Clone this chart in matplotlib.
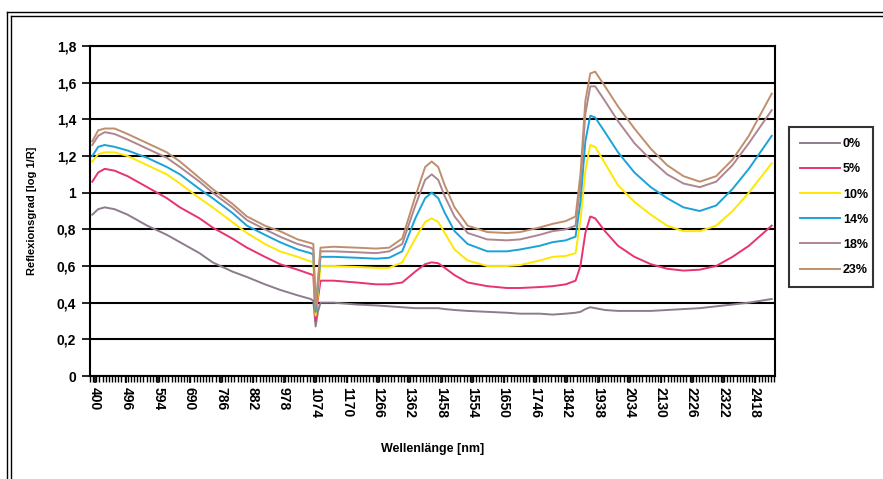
import matplotlib
matplotlib.use("Agg")
import matplotlib.pyplot as plt
from matplotlib.lines import Line2D
import numpy as np

plt.rcParams['font.family'] = ['Liberation Sans', 'DejaVu Sans']

wavelength = [392, 410, 430, 460, 500, 560, 620, 660, 720, 760, 820, 865, 920, 966,
              1020, 1060, 1068, 1075, 1082, 1090, 1130, 1200, 1260, 1300, 1340, 1380,
              1410, 1430, 1450, 1470, 1500, 1540, 1600, 1660, 1700, 1760, 1800, 1840,
              1870, 1885, 1900, 1915, 1930, 1960, 2000, 2050, 2100, 2150, 2200, 2250,
              2300, 2350, 2400, 2470]

s0 = [0.88, 0.91, 0.92, 0.91, 0.88, 0.82, 0.77, 0.73, 0.67, 0.62, 0.57, 0.54, 0.50, 0.47,
      0.44, 0.42, 0.41, 0.27, 0.35, 0.40, 0.40, 0.39, 0.385, 0.38, 0.375, 0.37,
      0.37, 0.37, 0.37, 0.365, 0.36, 0.355, 0.35, 0.345, 0.34, 0.34, 0.335, 0.34,
      0.345, 0.35, 0.365, 0.375, 0.37, 0.36, 0.355, 0.355, 0.355, 0.36, 0.365, 0.37,
      0.38, 0.39, 0.40, 0.42]
s5 = [1.06, 1.11, 1.13, 1.12, 1.09, 1.03, 0.97, 0.92, 0.86, 0.81, 0.75, 0.70, 0.65, 0.61,
      0.58, 0.555, 0.55, 0.30, 0.42, 0.52, 0.52, 0.51, 0.50, 0.50, 0.51, 0.57,
      0.61, 0.62, 0.615, 0.59, 0.55, 0.51, 0.49, 0.48, 0.48, 0.485, 0.49, 0.50,
      0.52, 0.60, 0.78, 0.87, 0.86, 0.79, 0.71, 0.65, 0.61, 0.585, 0.575, 0.58,
      0.60, 0.65, 0.71, 0.82]
s10 = [1.17, 1.21, 1.22, 1.22, 1.20, 1.15, 1.10, 1.05, 0.97, 0.92, 0.84, 0.78, 0.72, 0.68,
       0.65, 0.625, 0.62, 0.33, 0.45, 0.60, 0.60, 0.595, 0.59, 0.59, 0.62, 0.75,
       0.84, 0.86, 0.84, 0.78, 0.69, 0.63, 0.60, 0.60, 0.605, 0.63, 0.65, 0.655,
       0.67, 0.85, 1.12, 1.26, 1.25, 1.16, 1.04, 0.95, 0.88, 0.82, 0.79, 0.79,
       0.82, 0.90, 1.00, 1.16]
s14 = [1.20, 1.25, 1.26, 1.25, 1.23, 1.19, 1.14, 1.10, 1.02, 0.97, 0.89, 0.82, 0.77, 0.73,
       0.69, 0.67, 0.66, 0.35, 0.48, 0.65, 0.65, 0.645, 0.64, 0.645, 0.68, 0.86,
       0.97, 1.00, 0.97, 0.89, 0.79, 0.72, 0.68, 0.68, 0.69, 0.71, 0.73, 0.74,
       0.76, 0.95, 1.28, 1.42, 1.41, 1.33, 1.22, 1.11, 1.03, 0.97, 0.92, 0.90,
       0.93, 1.02, 1.13, 1.31]
s18 = [1.26, 1.31, 1.33, 1.32, 1.29, 1.24, 1.19, 1.14, 1.06, 1.00, 0.92, 0.85, 0.80, 0.76,
       0.72, 0.70, 0.69, 0.37, 0.50, 0.68, 0.68, 0.675, 0.67, 0.68, 0.72, 0.93,
       1.07, 1.10, 1.07, 0.98, 0.87, 0.78, 0.745, 0.74, 0.745, 0.77, 0.79, 0.80,
       0.82, 1.05, 1.43, 1.58, 1.58, 1.50, 1.39, 1.27, 1.18, 1.10, 1.05, 1.03,
       1.06, 1.15, 1.27, 1.45]
s23 = [1.28, 1.34, 1.35, 1.35, 1.32, 1.27, 1.22, 1.17, 1.08, 1.02, 0.94, 0.87, 0.82, 0.79,
       0.745, 0.725, 0.72, 0.39, 0.52, 0.70, 0.705, 0.70, 0.695, 0.70, 0.75, 0.98,
       1.14, 1.17, 1.14, 1.04, 0.92, 0.82, 0.785, 0.78, 0.785, 0.81, 0.83, 0.845,
       0.87, 1.10, 1.50, 1.65, 1.66, 1.58, 1.47, 1.35, 1.24, 1.15, 1.09, 1.06,
       1.09, 1.18, 1.31, 1.54]

series_labels = ['0%', '5%', '10%', '14%', '18%', '23%']
series_values = [s0, s5, s10, s14, s18, s23]
colors = ['#8c7c8c', '#e8336e', '#ffe800', '#1aa3d9', '#ad8790', '#bf8f6d']

xtick_labels = [400, 496, 594, 690, 786, 882, 978, 1074, 1170, 1266, 1362, 1458, 1554,
                1650, 1746, 1842, 1938, 2034, 2130, 2226, 2322, 2418]
ytick_values = [0, 0.2, 0.4, 0.6, 0.8, 1.0, 1.2, 1.4, 1.6, 1.8]
ytick_labels = ['0', '0,2', '0,4', '0,6', '0,8', '1', '1,2', '1,4', '1,6', '1,8']

W, H = 883, 479
fig = plt.figure(figsize=(W / 100, H / 100), dpi=100)
ax = fig.add_axes([90 / W, 1 - 376 / H, (775 - 90) / W, (376 - 46) / H])

for lab, vals, c in zip(series_labels, series_values, colors):
    ax.plot(wavelength, vals, color=c, lw=1.4, label=lab)

ax.set_xlim(385, 2480)
ax.set_ylim(0, 1.8)
ax.set_yticks(ytick_values)
ax.set_yticklabels(ytick_labels, fontsize=10, fontweight='bold')
ax.set_xticks(xtick_labels)
ax.set_xticklabels([str(v) for v in xtick_labels], rotation=270, fontsize=10,
                   fontweight='bold')
ax.set_xticks(np.arange(385, 2480, 9.6), minor=True)
ax.tick_params(axis='x', which='major', length=5, width=1.2, direction='out', pad=3)
ax.tick_params(axis='x', which='minor', length=4, width=1.0, direction='out')
ax.tick_params(axis='y', length=6, width=1.2, direction='out', pad=4)
ax.yaxis.grid(True, color='black', lw=1.5)
ax.set_axisbelow(True)
for sp in ax.spines.values():
    sp.set_linewidth(1.5)
    sp.set_color('black')

ax.set_xlabel('Wellenlänge [nm]', fontsize=9, fontweight='bold', labelpad=18)
ax.set_ylabel('Reflexionsgrad [log 1/R]', fontsize=8, fontweight='bold', labelpad=14)

leg = ax.legend(loc='upper left',
                bbox_to_anchor=(789 / W, 1 - 298 / H, (873 - 789) / W, (298 - 127) / H),
                bbox_transform=fig.transFigure, mode='expand', frameon=True, fancybox=False,
                edgecolor='black', prop={'weight': 'bold', 'size': 9}, handlelength=3.2,
                handletextpad=0.2, labelspacing=1.05, borderpad=0.9, borderaxespad=0)
leg.get_frame().set_linewidth(1.5)

# double border of the chart area
for off in (7, 11):
    fig.add_artist(Line2D([off / W, off / W], [0, 1 - (off + 5) / H], color='black', lw=1,
                          transform=fig.transFigure))
for off in (12, 16):
    fig.add_artist(Line2D([(off - 5) / W, 1], [1 - off / H, 1 - off / H], color='black', lw=1,
                          transform=fig.transFigure))

fig.savefig('out.png', dpi=100)
